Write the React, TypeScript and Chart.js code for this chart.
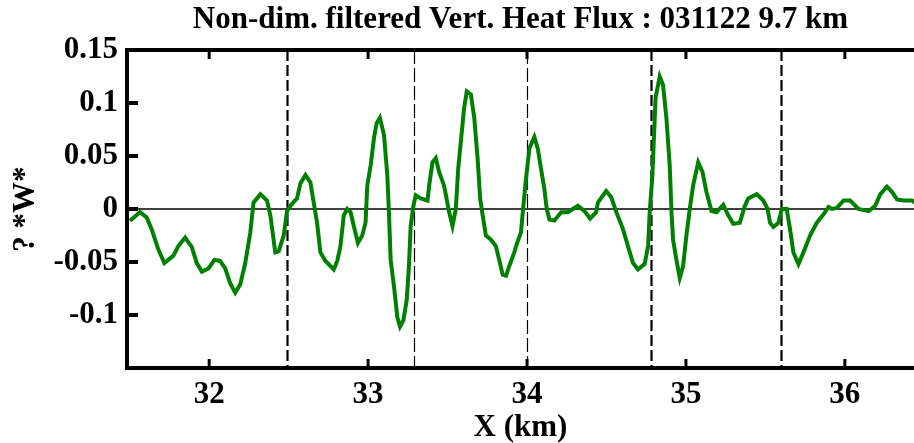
import React, { useEffect, useRef } from "react";
import { Chart, registerables } from "chart.js";

Chart.register(...registerables);

const titleText = "Non-dim. filtered Vert. Heat Flux : 031122 9.7 km";
const xTitle = "X (km)";
const yTitle = "? *W*";

const xKm = [
  31.502, 31.565, 31.607, 31.638, 31.68, 31.718, 31.775, 31.806, 31.849, 31.891,
  31.922, 31.954, 31.996, 32.033, 32.069, 32.101, 32.132, 32.164, 32.196, 32.227,
  32.259, 32.279, 32.322, 32.364, 32.385, 32.416, 32.437, 32.469, 32.49, 32.511,
  32.553, 32.574, 32.606, 32.637, 32.658, 32.679,
  32.7, 32.732, 32.784, 32.806, 32.826, 32.847, 32.869, 32.89, 32.91, 32.936,
  32.963, 32.984, 32.995, 33.016, 33.037, 33.054, 33.074, 33.1, 33.121, 33.131,
  33.142, 33.163, 33.184, 33.201, 33.222, 33.243, 33.257, 33.268, 33.285, 33.3,
  33.331, 33.374, 33.384, 33.405, 33.426, 33.447, 33.478, 33.51, 33.531, 33.552,
  33.567, 33.584, 33.604, 33.621, 33.647, 33.668, 33.689, 33.705, 33.721, 33.741,
  33.773, 33.804, 33.825, 33.847, 33.868, 33.888, 33.92,
  33.931, 33.962, 33.977, 33.994, 34.015, 34.046, 34.068, 34.088, 34.109, 34.124,
  34.141, 34.172, 34.215, 34.257, 34.32, 34.362, 34.397, 34.435, 34.446, 34.498,
  34.53, 34.562, 34.604, 34.635, 34.667, 34.698, 34.74, 34.762, 34.772, 34.789,
  34.809, 34.835, 34.856, 34.877, 34.898, 34.909, 34.919, 34.94, 34.961, 34.982,
  35.003, 35.024, 35.045, 35.077, 35.104, 35.129,
  35.161, 35.192, 35.235, 35.266, 35.298, 35.339, 35.371, 35.392, 35.445, 35.487,
  35.514, 35.529, 35.55, 35.582, 35.603, 35.634, 35.655, 35.676, 35.708, 35.739,
  35.781, 35.823, 35.866, 35.897, 35.918, 35.95, 35.992, 36.033, 36.086, 36.15,
  36.191, 36.223, 36.265, 36.297, 36.328, 36.37, 36.423, 36.448,
];

const heatFlux = [
  -0.011, -0.003, -0.008, -0.019, -0.038, -0.051, -0.044, -0.035, -0.027, -0.036,
  -0.051, -0.059, -0.056, -0.048, -0.049, -0.056, -0.07, -0.079, -0.071, -0.051,
  -0.022, 0.006, 0.014, 0.008, -0.006, -0.041, -0.04, -0.025, -0.002, 0.003,
  0.01, 0.024, 0.032, 0.025, 0.006, -0.013,
  -0.041, -0.049, -0.057, -0.049, -0.035, -0.006, 0.0, -0.003, -0.016, -0.032,
  -0.025, -0.013, 0.022, 0.041, 0.067, 0.081, 0.086, 0.07, 0.032, -0.003,
  -0.048, -0.073, -0.102, -0.111, -0.105, -0.086, -0.054, -0.016, 0.003, 0.013,
  0.01, 0.008, 0.022, 0.044, 0.048, 0.035, 0.022, -0.003, -0.016, 0.0,
  0.038, 0.064, 0.095, 0.111, 0.108, 0.086, 0.048, 0.01, -0.006, -0.025,
  -0.029, -0.035, -0.048, -0.062, -0.063, -0.054, -0.041,
  -0.035, -0.022, 0.003, 0.029, 0.057, 0.068, 0.057, 0.038, 0.019, 0.0,
  -0.01, -0.011, -0.003, -0.003, 0.003, -0.002, -0.009, -0.003, 0.006, 0.017,
  0.011, -0.003, -0.019, -0.035, -0.051, -0.057, -0.052, -0.035, -0.003, 0.032,
  0.105, 0.125, 0.117, 0.086, 0.041, -0.003, -0.029, -0.048, -0.065, -0.054,
  -0.025, 0.0, 0.022, 0.044, 0.035, 0.016,
  -0.002, -0.003, 0.004, -0.006, -0.014, -0.013, 0.003, 0.01, 0.014, 0.008,
  0.0, -0.013, -0.017, -0.013, 0.0, 0.0, -0.019, -0.041, -0.052, -0.041,
  -0.025, -0.013, -0.005, 0.002, 0.0, 0.001, 0.008, 0.008, 0.0, -0.002,
  0.003, 0.014, 0.021, 0.016, 0.009, 0.008, 0.008, 0.005,
];

const xTicks = [32, 33, 34, 35, 36];
const yTicks = [0.15, 0.1, 0.05, 0, -0.05, -0.1];
const xRange = [31.483, 36.435];
const yRange = [-0.15, 0.15];
const dashedX = [32.49, 33.29, 34.0, 34.78, 35.6];
const dashedThin = [false, true, true, false, false];

const FONT = "'Liberation Serif', 'Times New Roman', serif";
const FS = 31;

const framePlugin = {
  id: "frame",
  beforeDatasetsDraw(chart: any) {
    const { ctx, chartArea, scales } = chart;
    const { left, right, top, bottom } = chartArea;
    ctx.save();
    const y0 = scales.y.getPixelForValue(0);
    ctx.strokeStyle = "#000";
    ctx.lineWidth = 1.5;
    ctx.beginPath();
    ctx.moveTo(left, y0);
    ctx.lineTo(right, y0);
    ctx.stroke();
    dashedX.forEach((v, i) => {
      const x = Math.round(scales.x.getPixelForValue(v)) + 0.5;
      ctx.lineWidth = dashedThin[i] ? 1.2 : 2.2;
      ctx.setLineDash(dashedThin[i] ? [14, 4] : [11, 4]);
      ctx.beginPath();
      ctx.moveTo(x, top);
      ctx.lineTo(x, bottom);
      ctx.stroke();
    });
    ctx.setLineDash([]);
    ctx.restore();
  },
  afterDatasetsDraw(chart: any) {
    const { ctx, chartArea, scales } = chart;
    const { left, right, top, bottom } = chartArea;
    ctx.save();
    ctx.strokeStyle = "#000";
    ctx.lineCap = "butt";
    ctx.lineWidth = 4;
    ctx.beginPath();
    ctx.moveTo(left, bottom + 2);
    ctx.lineTo(left, top - 2);
    ctx.moveTo(left - 2, top);
    ctx.lineTo(right, top);
    ctx.moveTo(left - 2, bottom);
    ctx.lineTo(right, bottom);
    ctx.stroke();
    yTicks.forEach((v) => {
      const y = scales.y.getPixelForValue(v);
      ctx.beginPath();
      ctx.moveTo(left, y);
      ctx.lineTo(left + 11, y);
      ctx.stroke();
    });
    ctx.lineWidth = 3;
    xTicks.forEach((v) => {
      const x = scales.x.getPixelForValue(v);
      ctx.beginPath();
      ctx.moveTo(x, top);
      ctx.lineTo(x, top + 9);
      ctx.moveTo(x, bottom);
      ctx.lineTo(x, bottom - 9);
      ctx.stroke();
    });
    ctx.restore();
  },
};

export default function App() {
  const ref = useRef<HTMLCanvasElement | null>(null);
  useEffect(() => {
    if (!ref.current) return;
    const points = xKm.map((x, i) => ({ x, y: heatFlux[i] }));
    const font = { family: FONT, size: FS, weight: "bold" as const, lineHeight: 1 };
    const chart = new Chart(ref.current, {
      type: "line",
      data: {
        datasets: [
          {
            data: points,
            borderColor: "#008000",
            borderWidth: 4,
            pointRadius: 0,
            tension: 0,
            fill: false,
            borderJoinStyle: "miter",
          },
        ],
      },
      options: {
        animation: false,
        responsive: false,
        maintainAspectRatio: false,
        devicePixelRatio: 1,
        layout: { padding: 0 },
        plugins: {
          legend: { display: false },
          tooltip: { enabled: false },
          title: {
            display: true,
            text: titleText,
            fullSize: false,
            color: "#000",
            font,
            padding: { top: 4.5, bottom: 14.5 },
          },
        },
        scales: {
          x: {
            type: "linear",
            min: xRange[0],
            max: xRange[1],
            afterBuildTicks: (s: any) => {
              s.ticks = xTicks.map((v) => ({ value: v }));
            },
            afterFit: (s: any) => {
              s.height = 75;
            },
            grid: { display: false, drawTicks: false },
            border: { display: false },
            ticks: {
              color: "#000",
              padding: 11.5,
              maxRotation: 0,
              font,
              callback: (v: any) => String(v),
            },
            title: {
              display: true,
              text: xTitle,
              color: "#000",
              font,
              padding: { top: 0, bottom: 0 },
            },
          },
          y: {
            type: "linear",
            min: yRange[0],
            max: yRange[1],
            afterBuildTicks: (s: any) => {
              s.ticks = yTicks.map((v) => ({ value: v }));
            },
            afterFit: (s: any) => {
              s.width = 127;
            },
            grid: { display: false, drawTicks: false },
            border: { display: false },
            ticks: {
              color: "#000",
              padding: 9,
              font,
              callback: (v: any) => String(Number(Number(v).toFixed(2))),
            },
            title: {
              display: true,
              text: yTitle,
              color: "#000",
              font,
              padding: { top: 10.5, bottom: 0 },
            },
          },
        },
      },
      plugins: [framePlugin],
    });
    return () => chart.destroy();
  }, []);
  return (
    <div style={{ position: "absolute", left: 0, top: 0, width: 914, height: 443, background: "#fff" }}>
      <canvas ref={ref} width={914} height={443} style={{ width: 914, height: 443, display: "block" }} />
    </div>
  );
}
